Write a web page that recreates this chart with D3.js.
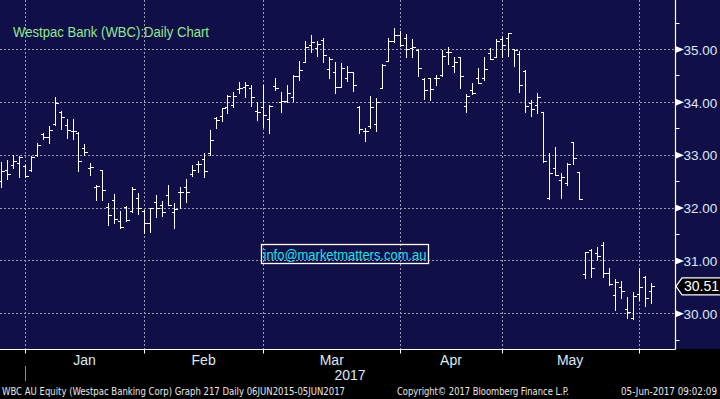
<!DOCTYPE html>
<html><head><meta charset="utf-8">
<script src="https://cdn.jsdelivr.net/npm/d3@7"></script>
<style>html,body{margin:0;padding:0;background:#000;} svg{display:block;}</style>
</head><body><svg id="c" width="720" height="399"></svg>
<script>
const dates = [
"2016-12-23","2016-12-28","2016-12-29","2016-12-30",
"2017-01-03","2017-01-04","2017-01-05","2017-01-06","2017-01-09","2017-01-10","2017-01-11","2017-01-12","2017-01-13","2017-01-16","2017-01-17","2017-01-18","2017-01-19","2017-01-20","2017-01-23","2017-01-24","2017-01-25","2017-01-27","2017-01-30","2017-01-31",
"2017-02-01","2017-02-02","2017-02-03","2017-02-06","2017-02-07","2017-02-08","2017-02-09","2017-02-10","2017-02-13","2017-02-14","2017-02-15","2017-02-16","2017-02-17","2017-02-20","2017-02-21","2017-02-22","2017-02-23","2017-02-24","2017-02-27","2017-02-28",
"2017-03-01","2017-03-02","2017-03-03","2017-03-06","2017-03-07","2017-03-08","2017-03-09","2017-03-10","2017-03-13","2017-03-14","2017-03-15","2017-03-16","2017-03-17","2017-03-20","2017-03-21","2017-03-22","2017-03-23","2017-03-24","2017-03-27","2017-03-28","2017-03-29","2017-03-30","2017-03-31",
"2017-04-03","2017-04-04","2017-04-05","2017-04-06","2017-04-07","2017-04-10","2017-04-11","2017-04-12","2017-04-13","2017-04-18","2017-04-19","2017-04-20","2017-04-21","2017-04-24","2017-04-26","2017-04-27","2017-04-28",
"2017-05-01","2017-05-02","2017-05-03","2017-05-04","2017-05-05","2017-05-08","2017-05-09","2017-05-10","2017-05-11","2017-05-12","2017-05-15","2017-05-16","2017-05-17","2017-05-18","2017-05-19","2017-05-22","2017-05-23","2017-05-24","2017-05-25","2017-05-26","2017-05-29","2017-05-30","2017-05-31",
"2017-06-01","2017-06-02","2017-06-05"];

const openP = [
32.51,32.72,32.81,32.85,32.79,32.71,32.99,33.39,33.33,33.58,
33.81,33.56,33.45,33.42,33.12,32.74,32.38,32.71,32.01,32.14,
31.75,32.02,31.94,32.18,31.94,31.71,32.10,32.04,32.24,31.92,
32.29,32.38,32.63,32.82,32.91,33.04,33.70,33.73,33.91,33.95,
34.24,34.28,34.27,33.83,33.91,33.67,34.30,33.99,34.02,34.10,
34.48,34.75,35.08,35.01,35.17,34.62,34.57,34.29,34.45,34.56,
33.91,33.45,33.54,33.58,34.27,34.77,35.15,35.26,35.20,35.02,
34.98,34.43,34.45,34.46,34.50,34.94,34.67,34.84,33.92,34.22,
34.46,34.45,34.92,34.84,35.19,35.20,35.00,34.90,34.59,33.97,
33.95,33.80,32.19,32.74,32.52,32.46,33.24,32.67,30.74,31.20,
31.15,31.29,30.76,30.35,30.49,30.08,29.91,30.36,30.69,30.43];

const highP = [
32.87,32.90,32.99,32.98,32.81,32.98,33.23,33.42,33.54,34.10,
33.83,33.67,33.67,33.43,33.20,32.85,32.43,32.71,32.08,32.26,
31.94,32.03,32.38,32.27,31.95,32.00,32.24,32.12,32.43,32.08,
32.38,32.54,32.81,32.88,33.03,33.47,33.71,33.88,34.13,34.18,
34.38,34.37,34.32,34.00,34.32,33.95,34.45,34.19,34.32,34.50,
34.77,35.15,35.26,35.15,35.21,34.84,34.76,34.73,34.68,34.57,
33.92,33.50,34.11,34.08,34.71,35.20,35.39,35.34,35.28,35.19,
35.00,34.46,34.46,34.50,34.98,35.04,34.85,34.85,34.14,34.35,
34.65,34.84,35.02,35.19,35.25,35.30,35.00,34.96,34.60,34.04,
34.16,33.80,33.03,33.15,32.66,32.84,33.24,32.67,31.16,31.22,
31.25,31.34,30.85,30.64,30.61,30.30,30.40,30.86,30.71,30.57];

const lowP = [
32.38,32.55,32.74,32.58,32.57,32.70,32.98,33.29,33.23,33.56,
33.48,33.31,33.29,32.70,32.99,32.62,32.14,32.14,31.67,31.70,
31.62,31.75,31.92,31.87,31.51,31.54,31.83,31.85,32.04,31.62,
31.99,32.11,32.60,32.67,32.57,32.99,33.50,33.64,33.78,33.91,
34.16,34.10,33.93,33.66,33.53,33.42,34.22,33.80,33.99,34.02,
34.41,34.75,34.95,34.87,34.76,34.45,34.17,34.28,34.39,34.21,
33.41,33.26,33.51,33.45,34.26,34.77,35.13,35.06,34.85,34.85,
34.48,34.05,34.04,34.32,34.48,34.71,34.57,34.26,33.81,34.14,
34.35,34.41,34.81,34.84,34.84,34.87,34.67,34.19,33.81,33.74,
33.78,32.86,32.16,32.62,32.19,32.43,32.82,32.16,30.66,30.69,
31.03,30.69,30.53,30.06,30.28,29.91,29.89,30.25,30.13,30.20];

const closeP = [
32.70,32.64,32.88,32.96,32.60,32.96,33.18,33.34,33.47,33.97,
33.71,33.47,33.44,32.89,33.06,32.76,32.41,32.33,31.86,31.78,
31.64,31.77,32.35,32.00,31.71,32.00,32.00,31.92,32.05,31.97,
32.29,32.29,32.72,32.82,32.69,33.27,33.66,33.88,34.12,34.12,
34.26,34.32,34.10,33.80,33.75,33.93,34.26,34.02,34.16,34.48,
34.60,35.04,35.13,35.09,34.89,34.81,34.29,34.65,34.57,34.32,
33.48,33.45,33.91,33.99,34.70,35.15,35.26,35.08,35.00,35.04,
34.65,34.22,34.24,34.46,34.87,34.94,34.75,34.48,34.11,34.16,
34.35,34.62,34.81,35.16,35.08,35.30,34.98,34.31,33.92,33.86,
34.10,32.88,32.66,32.62,32.57,32.82,32.93,32.16,31.16,30.86,
31.08,30.76,30.55,30.59,30.42,30.03,30.33,30.50,30.28,30.51];

const priceTicks = [30, 31, 32, 33, 34, 35];
const minorTicks = [29.5, 30.5, 31.5, 32.5, 33.5, 34.5, 35.5];
const monthLabels = ["Jan", "Feb", "Mar", "Apr", "May"];
const yearLabel = "2017";
const lastPrice = 30.51;
const titleText = "Westpac Bank (WBC):Daily Chart";
const emailText = "info@marketmatters.com.au";
const footerLeft = "WBC AU Equity (Westpac Banking Corp) Graph 217  Daily 06JUN2015-05JUN2017";
const footerMid = "Copyright\u00A9 2017 Bloomberg Finance L.P.";
const footerRight = "05-Jun-2017 09:02:09";

const W = 720, H = 399, plotR = 675, plotB = 349;
const navy = "#100f47";
const gridCol = "#9c9cb4";
const labelCol = "#dde8f6";
const font = "'Liberation Sans', Arial, sans-serif";

const svg = d3.select("#c");
svg.append("rect").attr("x",0).attr("y",0).attr("width",W).attr("height",H).attr("fill","#000");
svg.append("rect").attr("x",0).attr("y",0).attr("width",W).attr("height",plotB).attr("fill",navy);

const x = d3.scalePoint().domain(dates).range([1, 650.6]);
const y = d3.scaleLinear().domain([30, 35]).range([313.3, 49]);
const px = d => Math.round(x(d)) + 0.5;
const py = v => Math.round(y(v)) + 0.5;

// month starts
const monthStarts = [];
dates.forEach((d, i) => { if (i > 0 && d.slice(0,7) !== dates[i-1].slice(0,7)) monthStarts.push(d); });

const grid = svg.append("g").attr("stroke", gridCol).attr("stroke-width", 1).attr("stroke-dasharray", "2,2");
grid.selectAll("line.h").data(priceTicks).join("line").attr("class","h")
  .attr("x1", 0).attr("x2", plotR).attr("y1", d => py(d)).attr("y2", d => py(d));
grid.selectAll("line.v").data(monthStarts).join("line").attr("class","v")
  .attr("x1", d => px(d)).attr("x2", d => px(d)).attr("y1", 0).attr("y2", plotB);

// title
svg.append("text").attr("x", 13).attr("y", 37).text(titleText)
  .attr("font-family", font).attr("font-size", 14).attr("fill", "#92e892")
  .attr("textLength", 196).attr("lengthAdjust", "spacingAndGlyphs");

// email box
svg.append("rect").attr("x", 261.5).attr("y", 244.5).attr("width", 167).attr("height", 19)
  .attr("fill", "none").attr("stroke", "#fff").attr("stroke-width", 1.3);
svg.append("text").attr("x", 263.5).attr("y", 259.5).text(emailText)
  .attr("font-family", font).attr("font-size", 14.5).attr("fill", "#1ee4ea")
  .attr("textLength", 163).attr("lengthAdjust", "spacingAndGlyphs");

// OHLC bars
const bars = svg.append("g").attr("stroke", "#fff").attr("stroke-width", 1).attr("shape-rendering","crispEdges");
const rows = dates.map((d, i) => ({d, o: openP[i], h: highP[i], l: lowP[i], c: closeP[i]}));
const g = bars.selectAll("g").data(rows).join("g");
g.append("line").attr("x1", r => px(r.d)).attr("x2", r => px(r.d))
  .attr("y1", r => Math.round(y(r.h))).attr("y2", r => Math.round(y(r.l)) + 1);
g.append("line").attr("x1", r => px(r.d) - 3).attr("x2", r => px(r.d))
  .attr("y1", r => py(r.o)).attr("y2", r => py(r.o));
g.append("line").attr("x1", r => px(r.d)).attr("x2", r => px(r.d) + 3.5)
  .attr("y1", r => py(r.c)).attr("y2", r => py(r.c));

// axes lines
svg.append("line").attr("x1", 0).attr("x2", plotR + 0.5).attr("y1", plotB + 0.5).attr("y2", plotB + 0.5)
  .attr("stroke", "#fff").attr("stroke-width", 1.2);
svg.append("line").attr("x1", plotR + 0.5).attr("x2", plotR + 0.5).attr("y1", 0).attr("y2", plotB + 0.5)
  .attr("stroke", "#fff").attr("stroke-width", 1.2);

// right axis
const yAxis = d3.axisRight(y).tickValues(priceTicks).tickFormat(d3.format(".2f")).tickSize(0).tickPadding(8);
const ya = svg.append("g").attr("transform", `translate(${plotR + 0.5},0)`).call(yAxis);
ya.select(".domain").remove();
ya.selectAll("text").attr("font-family", font).attr("font-size", 13.5).attr("fill", labelCol).attr("dy", "0.38em");
ya.selectAll(".tick").append("path").attr("d", "M0,-3.5L8.5,0L0,3.5Z").attr("fill", "#fff");
svg.append("g").selectAll("line").data(minorTicks).join("line")
  .attr("x1", plotR).attr("x2", plotR + 4.5).attr("y1", d => py(d)).attr("y2", d => py(d))
  .attr("stroke", "#fff").attr("stroke-width", 1);

// last price marker
const ly = y(lastPrice);
svg.append("path").attr("d", `M${plotR + 1},${ly}L${plotR + 7},${ly - 8.5}L${W + 2},${ly - 8.5}L${W + 2},${ly + 8.5}L${plotR + 7},${ly + 8.5}Z`)
  .attr("fill", "#000").attr("stroke", "#fff").attr("stroke-width", 1.2);
svg.append("text").attr("x", 684).attr("y", ly).attr("dy", "0.36em").text(lastPrice.toFixed(2))
  .attr("font-family", font).attr("font-size", 14).attr("fill", "#fff");

// month ticks and labels
svg.append("g").selectAll("line").data(monthStarts).join("line")
  .attr("x1", d => px(d)).attr("x2", d => px(d)).attr("y1", plotB).attr("y2", plotB + 4.5)
  .attr("stroke", "#fff").attr("stroke-width", 1);
svg.append("g").selectAll("text").data(monthLabels).join("text")
  .attr("x", (m, k) => (x(monthStarts[k]) + x(monthStarts[k + 1])) / 2)
  .attr("y", 364.5).attr("text-anchor", "middle").text(m => m)
  .attr("font-family", font).attr("font-size", 14).attr("fill", labelCol);

// year separator and label
svg.append("line").attr("x1", px(monthStarts[0])).attr("x2", px(monthStarts[0])).attr("y1", 366).attr("y2", 381)
  .attr("stroke", "#8c8c8c").attr("stroke-width", 1);
svg.append("text").attr("x", 350).attr("y", 380).attr("text-anchor", "middle").text(yearLabel)
  .attr("font-family", font).attr("font-size", 14).attr("fill", labelCol);

// footer
const ff = "'Liberation Sans Narrow', 'DejaVu Sans Condensed', 'Liberation Sans', sans-serif";
svg.append("text").attr("x", 2).attr("y", 395).text(footerLeft)
  .attr("font-family", ff).attr("font-size", 10).attr("fill", "#e8e8e8")
  .attr("textLength", 343).attr("lengthAdjust", "spacingAndGlyphs");
svg.append("text").attr("x", 397).attr("y", 395).text(footerMid)
  .attr("font-family", ff).attr("font-size", 10).attr("fill", "#e8e8e8")
  .attr("textLength", 172).attr("lengthAdjust", "spacingAndGlyphs");
svg.append("text").attr("x", 621).attr("y", 395).text(footerRight)
  .attr("font-family", ff).attr("font-size", 10).attr("fill", "#e8e8e8")
  .attr("textLength", 96).attr("lengthAdjust", "spacingAndGlyphs");
</script>
</body></html>
